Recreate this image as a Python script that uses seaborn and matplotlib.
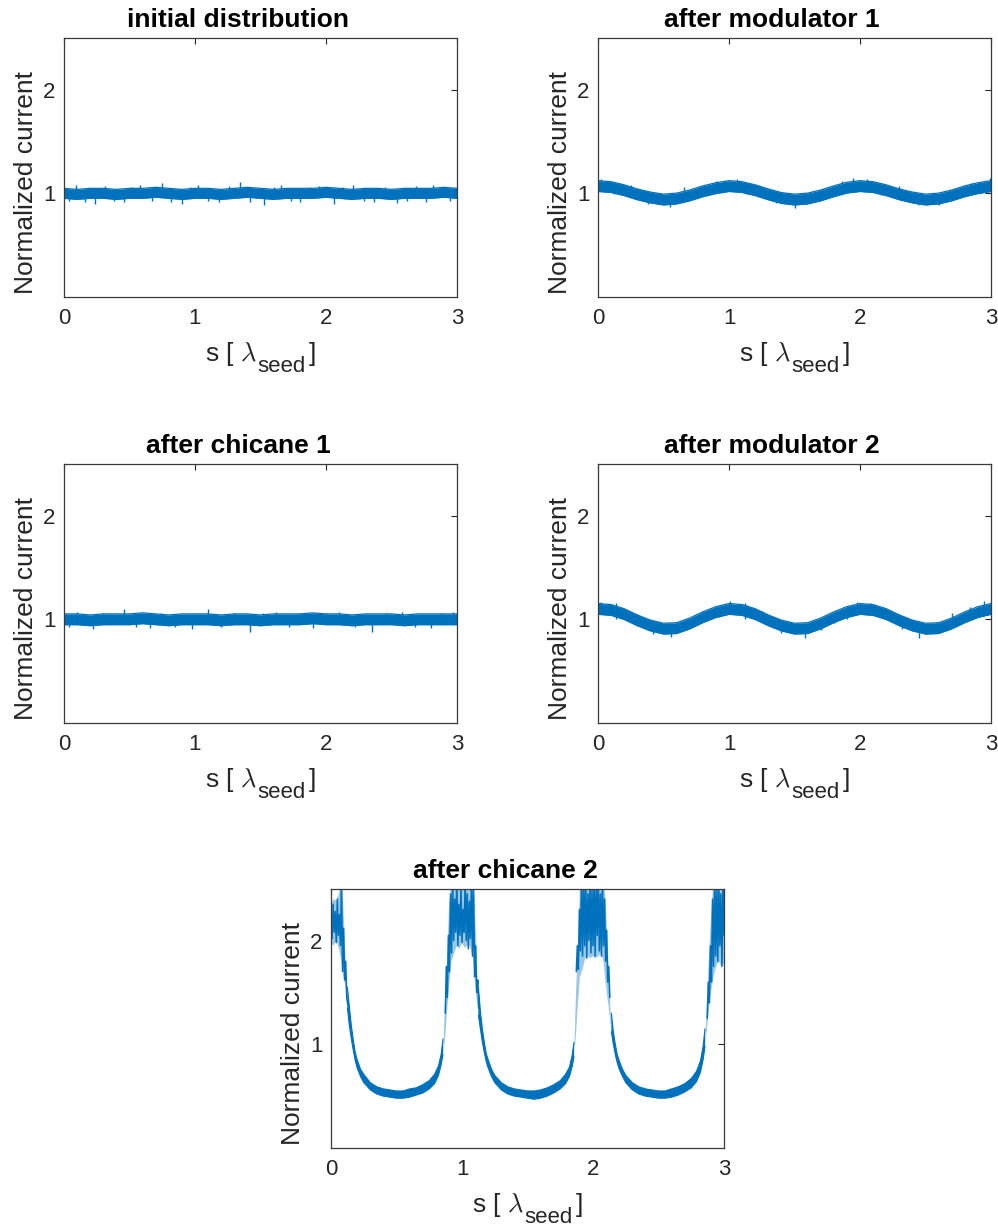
import numpy as np
import matplotlib
matplotlib.use("Agg")
import matplotlib.pyplot as plt
import seaborn as sns

# ---------------------------------------------------------------- data
TITLES = ["initial distribution", "after modulator 1", "after chicane 1",
          "after modulator 2", "after chicane 2"]
X_TICKS = [0, 1, 2, 3]
Y_TICKS = [1, 2]

# sampling positions (in seed wavelengths) of the smooth current trend
s_coarse = np.linspace(0.0, 3.0, 31)

# mean normalized current, panels 1-4
p1_mid = [1.00, 0.99, 1.00, 1.00, 0.99, 1.00, 1.00, 1.01, 1.00, 0.99, 1.00,
          1.00, 0.99, 1.00, 1.01, 1.00, 0.99, 1.00, 1.00, 1.00, 1.01,
          1.00, 0.99, 1.00, 1.00, 0.99, 1.00, 1.00, 1.00, 1.01, 1.00]
p2_mid = [1.07, 1.06, 1.03, 0.99, 0.96, 0.94, 0.95, 0.98, 1.02, 1.05, 1.07,
          1.06, 1.03, 0.99, 0.955, 0.94, 0.95, 0.98, 1.02, 1.055, 1.07,
          1.06, 1.03, 0.99, 0.96, 0.94, 0.95, 0.98, 1.02, 1.05, 1.07]
p3_mid = [1.00, 1.00, 0.99, 1.00, 1.00, 1.00, 1.01, 1.00, 0.99, 1.00, 1.00,
          1.00, 0.99, 1.00, 1.00, 0.99, 1.00, 1.00, 1.00, 1.01, 1.00,
          1.00, 0.99, 1.00, 1.00, 1.00, 0.99, 1.00, 1.00, 1.00, 1.00]
p4_mid = [1.10, 1.09, 1.05, 0.99, 0.94, 0.91, 0.915, 0.96, 1.02, 1.07, 1.10,
          1.09, 1.05, 0.99, 0.94, 0.91, 0.915, 0.96, 1.02, 1.07, 1.10,
          1.09, 1.05, 0.99, 0.94, 0.91, 0.915, 0.96, 1.02, 1.07, 1.10]
# shot-noise half width of the dense trace, panels 1-4
noise_hw = [0.048, 0.052, 0.052, 0.052]

# noise excursions beyond the dense band (position, low end, high end)
p1_spk_s = [0.04, 0.09, 0.16, 0.24, 0.31, 0.38, 0.46, 0.52, 0.58, 0.67, 0.75,
            0.82, 0.90, 0.96, 1.02, 1.10, 1.18, 1.26, 1.34, 1.42, 1.53, 1.60,
            1.66, 1.73, 1.80, 1.88, 1.95, 2.06, 2.13, 2.21, 2.29, 2.37, 2.45,
            2.54, 2.62, 2.69, 2.76, 2.82, 2.88, 2.95]
p1_spk_lo = [0.93, 1.00, 0.92, 0.90, 1.00, 0.93, 0.92, 1.00, 1.00, 0.93, 1.00,
             0.92, 0.90, 1.00, 1.00, 0.93, 0.92, 1.00, 1.00, 0.92, 0.89, 1.00,
             1.00, 0.93, 0.92, 1.00, 1.00, 0.90, 1.00, 1.00, 0.93, 0.92, 1.00,
             0.91, 0.93, 1.00, 0.92, 1.00, 1.00, 0.93]
p1_spk_hi = [1.00, 1.08, 1.00, 1.00, 1.07, 1.00, 1.00, 1.06, 1.08, 1.00, 1.10,
             1.00, 1.00, 1.06, 1.08, 1.00, 1.00, 1.07, 1.11, 1.00, 1.00, 1.06,
             1.08, 1.00, 1.00, 1.06, 1.07, 1.00, 1.06, 1.08, 1.00, 1.00, 1.06,
             1.00, 1.00, 1.07, 1.00, 1.08, 1.06, 1.00]

p2_spk_s = [0.02, 0.12, 0.25, 0.38, 0.47, 0.55, 0.66, 0.78, 0.90, 1.06, 1.14,
            1.22, 1.36, 1.50, 1.62, 1.72, 1.86, 1.95, 2.05, 2.16, 2.30, 2.44,
            2.60, 2.72, 2.85, 2.92, 2.99]
p2_spk_lo = [1.06, 0.99, 1.00, 0.90, 0.92, 0.87, 0.98, 0.98, 1.06, 1.06, 0.99,
             1.00, 0.91, 0.86, 0.93, 0.96, 1.06, 1.06, 1.06, 0.98, 1.00, 0.89,
             0.89, 0.96, 1.02, 1.00, 1.06]
p2_spk_hi = [1.14, 1.07, 1.08, 0.98, 1.00, 0.96, 1.06, 1.06, 1.12, 1.14, 1.07,
             1.08, 0.99, 0.95, 1.01, 1.04, 1.12, 1.15, 1.14, 1.06, 1.07, 0.97,
             0.97, 1.04, 1.10, 1.08, 1.15]

p3_spk_s = [0.04, 0.10, 0.22, 0.30, 0.46, 0.55, 0.66, 0.74, 0.85, 0.98, 1.10,
            1.20, 1.30, 1.42, 1.52, 1.62, 1.72, 1.80, 1.90, 2.00, 2.10, 2.22,
            2.35, 2.46, 2.58, 2.68, 2.80, 2.88, 2.97]
p3_spk_lo = [0.93, 1.00, 0.91, 1.00, 1.00, 0.93, 0.92, 1.00, 0.93, 0.91, 1.00,
             0.93, 1.00, 0.88, 1.00, 1.00, 0.93, 1.00, 0.92, 1.00, 1.00, 0.93,
             0.88, 1.00, 1.00, 0.93, 0.92, 1.00, 1.00]
p3_spk_hi = [1.00, 1.07, 1.00, 1.06, 1.10, 1.00, 1.00, 1.06, 1.00, 1.00, 1.10,
             1.00, 1.06, 1.00, 1.06, 1.07, 1.00, 1.06, 1.00, 1.06, 1.07, 1.00,
             1.00, 1.06, 1.07, 1.00, 1.00, 1.06, 1.07]

p4_spk_s = [0.02, 0.14, 0.30, 0.42, 0.56, 0.68, 0.80, 0.92, 1.01, 1.12, 1.25,
            1.40, 1.58, 1.70, 1.80, 1.90, 1.98, 2.08, 2.20, 2.32, 2.45, 2.58,
            2.70, 2.84, 2.95]
p4_spk_lo = [1.08, 1.00, 0.97, 0.86, 0.83, 0.95, 1.00, 1.02, 1.08, 1.00, 1.00,
             0.87, 0.82, 0.90, 0.96, 1.00, 1.08, 1.06, 1.02, 0.91, 0.82, 0.88,
             0.98, 1.00, 1.08]
p4_spk_hi = [1.17, 1.16, 1.05, 0.95, 0.92, 1.00, 1.08, 1.12, 1.18, 1.16, 1.08,
             0.95, 0.91, 0.98, 1.04, 1.12, 1.17, 1.16, 1.10, 0.99, 0.90, 0.96,
             1.06, 1.12, 1.18]

# after chicane 2: extent of the bunched current trace
p5_s = [0.00, 0.02, 0.04, 0.06, 0.08, 0.095, 0.11, 0.125,
        0.14, 0.155, 0.17, 0.185, 0.20, 0.225, 0.25, 0.30, 0.35, 0.40, 0.45,
        0.50, 0.55, 0.60, 0.65, 0.70, 0.75, 0.79, 0.82, 0.84, 0.855,
        0.87, 0.885, 0.90, 0.92, 0.94, 0.96, 0.98, 1.00, 1.02, 1.04, 1.06,
        1.08, 1.095, 1.11, 1.125,
        1.14, 1.155, 1.17, 1.185, 1.20, 1.225, 1.25, 1.30, 1.35, 1.40, 1.45,
        1.50, 1.55, 1.60, 1.65, 1.70, 1.75, 1.79, 1.82, 1.84, 1.855,
        1.87, 1.885, 1.90, 1.92, 1.94, 1.96, 1.98, 2.00, 2.02, 2.04, 2.06,
        2.08, 2.095, 2.11, 2.125,
        2.14, 2.155, 2.17, 2.185, 2.20, 2.225, 2.25, 2.30, 2.35, 2.40, 2.45,
        2.50, 2.55, 2.60, 2.65, 2.70, 2.75, 2.79, 2.82, 2.84,
        2.855, 2.87, 2.885, 2.90, 2.92, 2.94, 2.96, 2.98, 3.00]
p5_lo = [1.98, 1.95, 2.00, 1.92, 1.80, 1.65, 1.55, 1.35,
         1.18, 1.05, 0.94, 0.84, 0.77, 0.69, 0.63, 0.56, 0.52, 0.50, 0.49,
         0.48, 0.48, 0.49, 0.51, 0.53, 0.57, 0.62, 0.70, 0.80, 0.90,
         1.05, 1.30, 1.55, 1.80, 1.88, 1.95, 1.92, 1.98, 1.93, 1.95, 1.95,
         1.85, 1.65, 1.45, 1.28,
         1.15, 1.02, 0.92, 0.83, 0.77, 0.69, 0.63, 0.56, 0.52, 0.50, 0.49,
         0.48, 0.47, 0.48, 0.50, 0.53, 0.57, 0.62, 0.69, 0.78, 0.88,
         1.10, 1.40, 1.65, 1.72, 1.83, 1.85, 1.83, 1.85, 1.83, 1.85, 1.88,
         1.80, 1.60, 1.45, 1.30,
         1.12, 1.00, 0.90, 0.82, 0.76, 0.69, 0.63, 0.56, 0.52, 0.50, 0.49,
         0.48, 0.48, 0.49, 0.51, 0.54, 0.58, 0.64, 0.73, 0.85,
         0.98, 1.15, 1.35, 1.50, 1.65, 1.75, 1.80, 1.75, 1.78]
p5_hi = [2.35, 2.40, 2.38, 2.45, 2.60, 2.30, 1.85, 1.55,
         1.36, 1.18, 1.04, 0.92, 0.85, 0.76, 0.71, 0.63, 0.59, 0.57, 0.56,
         0.55, 0.55, 0.57, 0.58, 0.61, 0.65, 0.71, 0.79, 0.90, 1.05,
         1.40, 1.80, 2.30, 2.60, 2.60, 2.60, 2.60, 2.60, 2.60, 2.60, 2.60,
         2.60, 2.40, 1.95, 1.55,
         1.32, 1.15, 1.02, 0.91, 0.85, 0.76, 0.70, 0.63, 0.59, 0.57, 0.56,
         0.55, 0.55, 0.56, 0.58, 0.61, 0.65, 0.71, 0.78, 0.89, 1.02,
         1.50, 1.95, 2.50, 2.60, 2.60, 2.60, 2.60, 2.60, 2.60, 2.60, 2.60,
         2.60, 2.40, 2.00, 1.60,
         1.30, 1.12, 1.00, 0.90, 0.84, 0.76, 0.70, 0.63, 0.59, 0.57, 0.56,
         0.55, 0.55, 0.57, 0.59, 0.62, 0.67, 0.74, 0.84, 0.98,
         1.15, 1.45, 1.85, 2.20, 2.60, 2.60, 2.60, 2.60, 2.60]

# strongly fluctuating current inside the four current spikes
z0_s = np.linspace(0.000, 0.128, 17)
z0_v = [2.30, 2.02, 2.35, 2.08, 2.28, 1.98, 2.40, 2.05, 2.25, 1.95, 2.60,
        1.70, 2.12, 1.62, 1.80, 1.45, 1.38]
z1_s = np.linspace(0.872, 1.128, 33)
z1_v = [1.30, 1.75, 1.45, 2.05, 1.70, 2.45, 1.88, 2.60, 2.00, 2.40, 2.08,
        2.60, 1.95, 2.35, 2.05, 2.52, 1.98, 2.30, 2.08, 2.60, 2.00, 2.45,
        1.92, 2.38, 2.02, 2.60, 1.85, 2.55, 1.65, 1.95, 1.50, 1.62, 1.35]
z2_s = np.linspace(1.872, 2.128, 33)
z2_v = [1.70, 1.95, 1.72, 2.30, 1.90, 2.60, 1.85, 2.55, 1.95, 2.60, 1.83,
        2.45, 2.00, 2.60, 1.88, 2.50, 1.95, 2.60, 1.85, 2.55, 2.05, 2.60,
        1.90, 2.45, 1.85, 2.60, 1.95, 2.40, 1.80, 2.10, 1.60, 1.75, 1.45]
z3_s = np.linspace(2.872, 3.000, 17)
z3_v = [1.25, 1.60, 1.40, 1.95, 1.60, 2.40, 1.75, 2.60, 1.85, 2.55, 1.80,
        2.60, 1.95, 2.45, 1.75, 2.60, 2.05]

# ---------------------------------------------------------------- style
sns.set_theme(style="white")
plt.rcParams["font.family"] = ["Liberation Sans", "DejaVu Sans"]
plt.rcParams["mathtext.fontset"] = "cm"

BLUE = "#0072BD"
PALE = "#9cc7e6"
INK = "#262626"

fig = plt.figure(figsize=(9.98, 12.29), dpi=100)

W, H = 0.3938, 0.2110
boxes = [
    [0.0641, 0.7583, W, H],
    [0.5992, 0.7583, W, H],
    [0.0641, 0.4117, W, H],
    [0.5992, 0.4117, W, H],
    [0.3317, 0.0659, W, H],
]


def runs(mask):
    """Index ranges of consecutive True entries."""
    out, start = [], None
    for i, m in enumerate(mask):
        if m and start is None:
            start = i
        if not m and start is not None:
            out.append((start, i))
            start = None
    if start is not None:
        out.append((start, len(mask)))
    return out


def dress(ax, title):
    ax.set_xlim(0, 3)
    ax.set_ylim(0, 2.5)
    ax.set_xticks(X_TICKS)
    ax.set_yticks(Y_TICKS)
    ax.tick_params(axis="both", direction="in", length=4, width=0.8,
                   colors=INK, labelsize=16, top=True, right=True)
    ax.tick_params(axis="x", pad=8)
    ax.tick_params(axis="y", pad=6)
    for sp in ax.spines.values():
        sp.set_visible(True)
        sp.set_color("#3a3a3a")
        sp.set_linewidth(0.9)
    ax.set_xlabel("")
    ax.set_ylabel("Normalized current", fontsize=19, color=INK)
    ax.yaxis.set_label_coords(-0.066, 0.443)
    t = ax.set_title(title, fontsize=19, fontweight="bold", color="black",
                     pad=8)
    t.set_x(0.443)
    # x label: s [ lambda_seed ]
    t1 = ax.annotate(r"s [ $\lambda$", xy=(0.359, 0), xycoords="axes fraction",
                     xytext=(0, -45.9), textcoords="offset points",
                     ha="left", va="baseline", fontsize=19, color=INK)
    t2 = ax.annotate("seed", xy=(1, 0), xycoords=(t1, "axes fraction"),
                     xytext=(0.5, -53.8), textcoords="offset points",
                     ha="left", va="baseline", fontsize=16, color=INK)
    ax.annotate("]", xy=(1, 0), xycoords=(t2, "axes fraction"),
                xytext=(2.0, -45.9), textcoords="offset points",
                ha="left", va="baseline", fontsize=19, color=INK)


mids = [p1_mid, p2_mid, p3_mid, p4_mid]
spikes = [(p1_spk_s, p1_spk_lo, p1_spk_hi), (p2_spk_s, p2_spk_lo, p2_spk_hi),
          (p3_spk_s, p3_spk_lo, p3_spk_hi), (p4_spk_s, p4_spk_lo, p4_spk_hi)]

for k in range(4):
    ax = fig.add_axes(boxes[k])
    mid = np.asarray(mids[k])
    lo = mid - noise_hw[k]
    hi = mid + noise_hw[k]
    ax.fill_between(s_coarse, lo, hi, color=BLUE, lw=0)
    sns.lineplot(x=s_coarse, y=hi, ax=ax, color=BLUE, lw=0.9,
                 estimator=None, legend=False)
    sns.lineplot(x=s_coarse, y=lo, ax=ax, color=BLUE, lw=0.9,
                 estimator=None, legend=False)
    sx, slo, shi = spikes[k]
    ax.vlines(sx, slo, shi, color=BLUE, lw=1.0)
    dress(ax, TITLES[k])

# after chicane 2
ax = fig.add_axes(boxes[4])
s5 = np.asarray(p5_s)
lo5 = np.asarray(p5_lo)
hi5 = np.asarray(p5_hi)
narrow = (hi5 - lo5) < 0.3
ax.fill_between(s5, lo5, hi5, where=~narrow, color=PALE, lw=0,
                interpolate=True)
ax.fill_between(s5, lo5, hi5, where=narrow, color=BLUE, lw=0,
                interpolate=True)
for a, b in runs(narrow):
    for arr in (lo5, hi5):
        sns.lineplot(x=s5[a:b], y=arr[a:b], ax=ax, color=BLUE, lw=0.8,
                     estimator=None, legend=False)
for zs, zv in ((z0_s, z0_v), (z1_s, z1_v), (z2_s, z2_v), (z3_s, z3_v)):
    sns.lineplot(x=zs, y=zv, ax=ax, color=BLUE, lw=1.1, estimator=None,
                 legend=False)
dress(ax, TITLES[4])

fig.savefig("out.png", dpi=100, facecolor="white")
